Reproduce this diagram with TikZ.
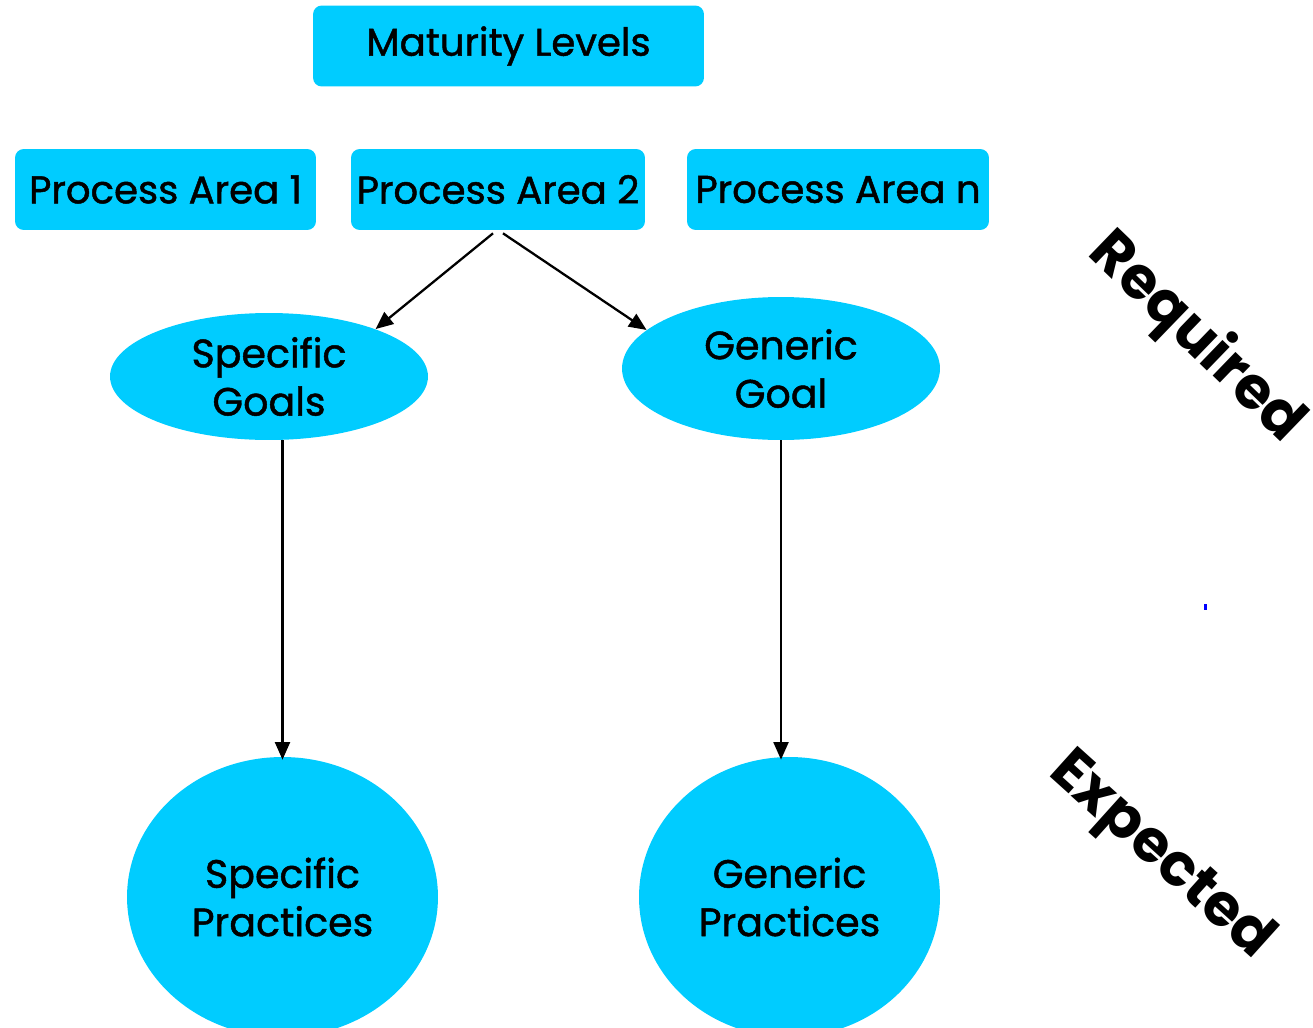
\documentclass[tikz,border=0pt]{standalone}
\usepackage{fontspec}
\setmainfont{Poppins}
\newfontfamily\midfont{Poppins}[FakeBold=1.2]
\usetikzlibrary{shapes.geometric,arrows.meta}
\definecolor{areacyan}{RGB}{0,204,255}

\begin{document}
\begin{tikzpicture}[x=0.02cm,y=-0.02cm,
        box/.style={shape=rectangle,rounded corners=5pt,fill=areacyan,minimum height=1.62cm,inner sep=0pt,font=\midfont\fontsize{22}{27.5}\selectfont},
        goal/.style={shape=ellipse,fill=areacyan,inner sep=0pt,align=center,font=\midfont\fontsize{22.5}{27.5}\selectfont},
        tag/.style={font=\fontsize{33.5}{36}\selectfont\bfseries},
        link/.style={-{Triangle[length=10pt,width=8.5pt]},line width=1.3pt}]

        \clip (0,0) rectangle (1313,1028);

        \node[box,minimum width=7.82cm] (ml) at (508.5,46) {Maturity Levels};
        \node[box,minimum width=6.02cm] (pa1) at (165.5,189.5) {Process Area 1};
        \node[box,minimum width=5.88cm] (pa2) at (498,189.5) {Process Area 2};
        \node[box,minimum width=6.04cm] (pan) at (838,189.5) {Process Area n};

        \node[goal,minimum width=6.36cm,minimum height=2.54cm] (sg) at (269,376.5) {Specific\\Goals};
        \node[goal,minimum width=6.36cm,minimum height=2.86cm] (gg) at (781,368.5) {Generic\\Goal};
        \node[goal,minimum width=6.22cm,minimum height=5.6cm] (sp) at (282.5,897) {Specific\\Practices};
        \node[goal,minimum width=6.02cm,minimum height=5.6cm] (gp) at (789.5,897) {Generic\\Practices};

        \node[tag,rotate=-44] (req) at (1196,338) {Required};
        \node[tag,rotate=-42] (exp) at (1160,857) {Expected};

        \draw[link] ([xshift=-0.1cm,yshift=-0.06cm]pa2.south) -- (sg.24);
        \draw[link] ([xshift=0.1cm,yshift=-0.06cm]pa2.south) -- (gg.164);
        \draw[link] (sp.north |- sg.south) -- ([yshift=-0.06cm]sp.north);
        \draw[link] (gg.south) -- ([yshift=-0.06cm]gg.south |- gp.north);

        \fill[blue] (1204,604) rectangle (1207,610);

\end{tikzpicture}
\end{document}
